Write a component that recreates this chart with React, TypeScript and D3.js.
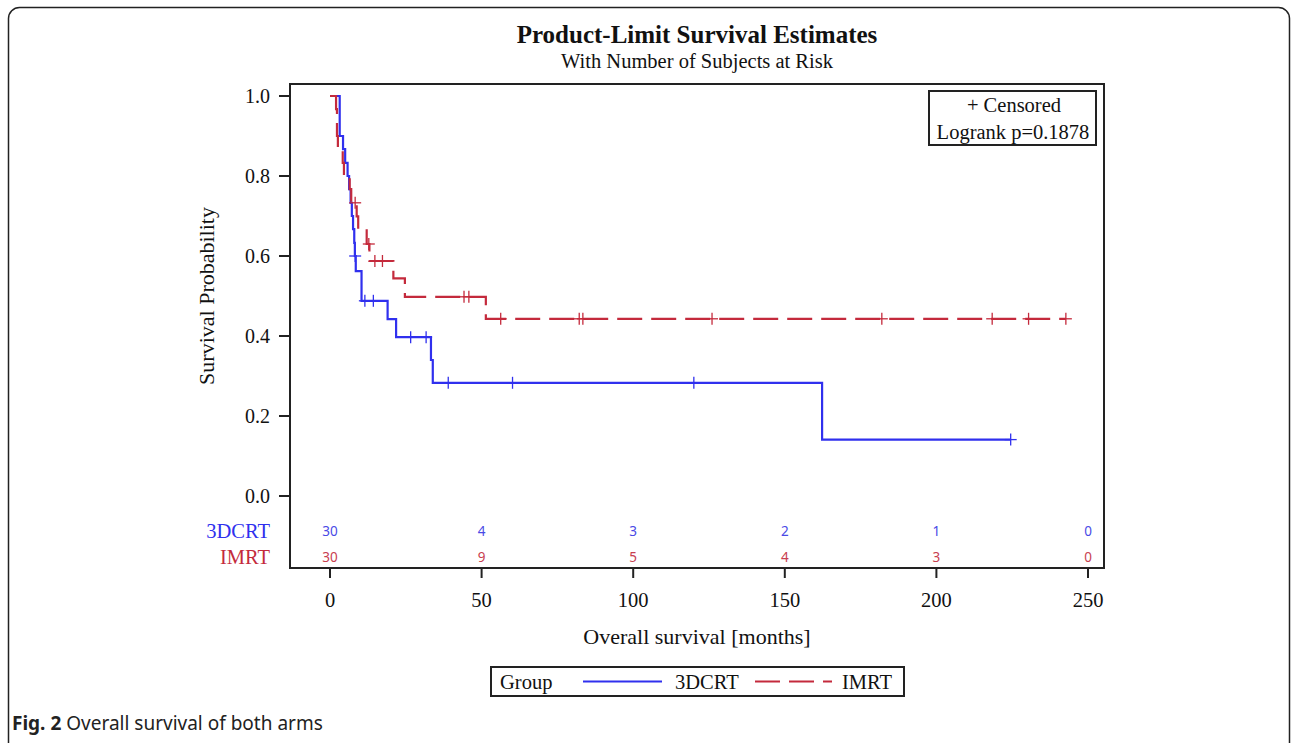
import React from "react";
import * as d3 from "d3";

// ---- data ----
// 3DCRT Kaplan-Meier step points (months, survival)
const crtTimes = [0, 3.2, 4.3, 5.0, 5.8, 6.3, 6.8, 7.2, 7.6, 8.0, 8.2, 8.5, 10.4, 19.0, 21.8, 33.3, 33.9, 162.3, 224.5];
const crtSurv = [1.0, 0.9, 0.867, 0.833, 0.8, 0.767, 0.733, 0.7, 0.667, 0.633, 0.6, 0.562, 0.488, 0.442, 0.397, 0.34, 0.283, 0.141, 0.141];
const crtCensorTimes = [8.3, 11.5, 14.3, 26.6, 31.7, 39.0, 60.2, 120.0, 224.5];

// IMRT Kaplan-Meier step points
const imrtTimes = [0, 2.0, 2.3, 2.6, 4.2, 4.6, 6.5, 7.0, 8.8, 9.3, 12.1, 13.0, 20.9, 24.7, 51.4, 242.7];
const imrtSurv = [1.0, 0.967, 0.9, 0.867, 0.833, 0.8, 0.767, 0.733, 0.699, 0.664, 0.63, 0.5875, 0.544, 0.498, 0.443, 0.443];
const imrtCensorTimes = [8.3, 12.8, 14.8, 17.3, 44.2, 45.8, 56.3, 82.2, 83.4, 126.0, 182.0, 218.4, 230.4, 242.7];

const riskTimes = [0, 50, 100, 150, 200, 250];
const crtAtRisk = [30, 4, 3, 2, 1, 0];
const imrtAtRisk = [30, 9, 5, 4, 3, 0];

const xTicks = [0, 50, 100, 150, 200, 250];
const yTicks = [0, 0.2, 0.4, 0.6, 0.8, 1.0];

const BLUE = "#3030ee";
const RED = "#c42a3c";
const SERIF = "'Liberation Serif', 'Times New Roman', serif";
const SANS = "'Noto Sans', 'Open Sans', sans-serif";

function survAt(times: number[], surv: number[], t: number) {
  let s = surv[0];
  for (let i = 0; i < times.length; i++) if (times[i] <= t) s = surv[i];
  return s;
}

export default function App() {
  const W = 1292, H = 743;
  const frame = { l: 290, r: 1104, t: 84, b: 568 };
  const x = d3.scaleLinear().domain([0, 250]).range([330, 1088]);
  const y = d3.scaleLinear().domain([0, 1]).range([496, 96]);

  const line = d3
    .line<[number, number]>()
    .x((d) => x(d[0]))
    .y((d) => y(d[1]))
    .curve(d3.curveStepAfter);

  const crtPts: [number, number][] = crtTimes.map((t, i) => [t, crtSurv[i]]);
  const imrtPts: [number, number][] = imrtTimes.map((t, i) => [t, imrtSurv[i]]);

  const cs = 6; // censor half-size

  const riskY1 = 531, riskY2 = 557;

  return (
    <svg
      width={W}
      height={H}
      style={{ position: "absolute", left: 0, top: 0, background: "#fff" }}
    >
      {/* outer rounded card */}
      <rect x={8.5} y={7.5} width={1281} height={760} rx={11} fill="none" stroke="#222" strokeWidth={1.5} />

      {/* titles */}
      <text x={697} y={43} textAnchor="middle" fontFamily={SERIF} fontWeight="bold" fontSize={25} fill="#111">
        Product-Limit Survival Estimates
      </text>
      <text x={697} y={68} textAnchor="middle" fontFamily={SERIF} fontSize={20.5} fill="#111">
        With Number of Subjects at Risk
      </text>

      {/* plot frame */}
      <rect x={frame.l} y={frame.t} width={frame.r - frame.l} height={frame.b - frame.t} fill="none" stroke="#222" strokeWidth={2} />

      {/* y axis ticks */}
      {yTicks.map((v) => (
        <g key={"y" + v}>
          <line x1={279} x2={frame.l} y1={y(v)} y2={y(v)} stroke="#222" strokeWidth={2} />
          <text x={270} y={y(v) + 7} textAnchor="end" fontFamily={SERIF} fontSize={20} fill="#111">
            {v.toFixed(1)}
          </text>
        </g>
      ))}
      <text
        transform={`translate(214,296) rotate(-90)`}
        textAnchor="middle"
        fontFamily={SERIF}
        fontSize={22}
        fill="#111"
      >
        Survival Probability
      </text>

      {/* x axis ticks */}
      {xTicks.map((v) => (
        <g key={"x" + v}>
          <line x1={x(v)} x2={x(v)} y1={frame.b} y2={frame.b + 10} stroke="#222" strokeWidth={2} />
          <text x={x(v)} y={607} textAnchor="middle" fontFamily={SERIF} fontSize={20.5} fill="#111">
            {v}
          </text>
        </g>
      ))}
      <text x={697} y={644} textAnchor="middle" fontFamily={SERIF} fontSize={22} fill="#111">
        Overall survival [months]
      </text>

      {/* curves */}
      <path d={line(crtPts) || ""} fill="none" stroke={BLUE} strokeWidth={2.2} />
      <path d={line(imrtPts) || ""} fill="none" stroke={RED} strokeWidth={2.2} strokeDasharray="25,9" />

      {/* censor marks */}
      {crtCensorTimes.map((t, i) => {
        const cx = x(t), cy = y(survAt(crtTimes, crtSurv, t));
        return (
          <g key={"cc" + i} stroke={BLUE} strokeWidth={1.3}>
            <line x1={cx - cs} x2={cx + cs} y1={cy} y2={cy} />
            <line x1={cx} x2={cx} y1={cy - cs} y2={cy + cs} />
          </g>
        );
      })}
      {imrtCensorTimes.map((t, i) => {
        const cx = x(t), cy = y(survAt(imrtTimes, imrtSurv, t));
        return (
          <g key={"ic" + i} stroke={RED} strokeWidth={1.3}>
            <line x1={cx - cs} x2={cx + cs} y1={cy} y2={cy} />
            <line x1={cx} x2={cx} y1={cy - cs} y2={cy + cs} />
          </g>
        );
      })}

      {/* at-risk table */}
      <text x={270} y={riskY1 + 7} textAnchor="end" fontFamily={SERIF} fontSize={20.5} fill={BLUE}>3DCRT</text>
      <text x={270} y={riskY2 + 7} textAnchor="end" fontFamily={SERIF} fontSize={20.5} fill={RED}>IMRT</text>
      {riskTimes.map((t, i) => (
        <g key={"r" + t}>
          <text x={x(t)} y={riskY1 + 5} textAnchor="middle" fontFamily={SANS} fontSize={13.5} fill="#4a4ae6">
            {crtAtRisk[i]}
          </text>
          <text x={x(t)} y={riskY2 + 5} textAnchor="middle" fontFamily={SANS} fontSize={13.5} fill="#c84050">
            {imrtAtRisk[i]}
          </text>
        </g>
      ))}

      {/* inset legend */}
      <rect x={929} y={91} width={167} height={54} fill="#fff" stroke="#222" strokeWidth={2} />
      <text x={1014} y={112} textAnchor="middle" fontFamily={SERIF} fontSize={20.5} fill="#111">+ Censored</text>
      <text x={1013} y={139} textAnchor="middle" fontFamily={SERIF} fontSize={20.5} fill="#111">Logrank p=0.1878</text>

      {/* bottom legend */}
      <rect x={491} y={667} width={413} height={29} fill="#fff" stroke="#222" strokeWidth={2} />
      <text x={500} y={689} fontFamily={SERIF} fontSize={20.5} fill="#111">Group</text>
      <line x1={583} x2={662} y1={681.5} y2={681.5} stroke={BLUE} strokeWidth={2.2} />
      <text x={675} y={689} fontFamily={SERIF} fontSize={20.5} fill="#111">3DCRT</text>
      <line x1={755} x2={832} y1={681.5} y2={681.5} stroke={RED} strokeWidth={2.2} strokeDasharray="25,9" />
      <text x={842} y={689} fontFamily={SERIF} fontSize={20.5} fill="#111">IMRT</text>

      {/* caption */}
      <text x={12} y={730} fontFamily={SANS} fontSize={19} fill="#222">
        <tspan fontWeight="bold">Fig. 2</tspan>
        <tspan> Overall survival of both arms</tspan>
      </text>
    </svg>
  );
}
